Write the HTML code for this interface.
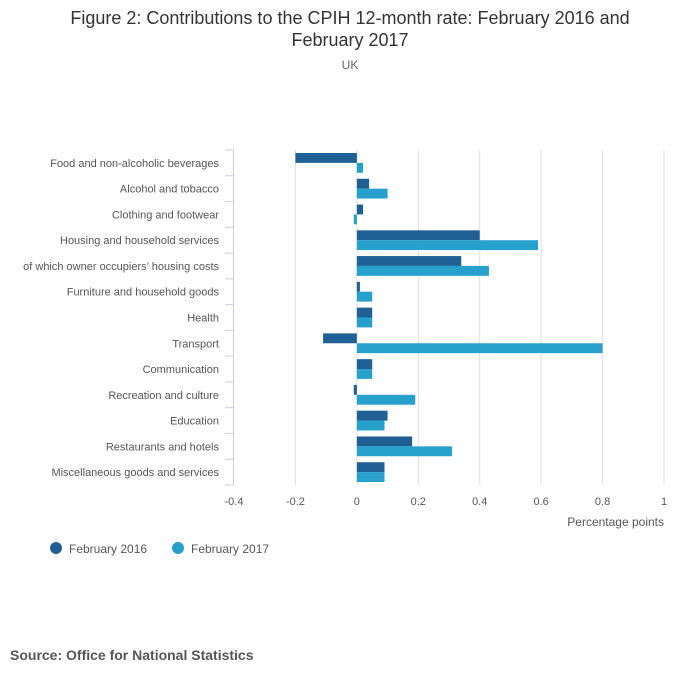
<!DOCTYPE html>
<html><head><meta charset="utf-8"><style>
body{margin:0;background:#fff;font-family:"Liberation Sans",sans-serif;}
</style></head><body>
<svg width="700" height="682" font-family="Liberation Sans, sans-serif">
<text x="350" y="24" text-anchor="middle" font-size="18" fill="#333">Figure 2: Contributions to the CPIH 12-month rate: February 2016 and</text>
<text x="350" y="46" text-anchor="middle" font-size="18" fill="#333">February 2017</text>
<text x="350" y="69" text-anchor="middle" font-size="12" fill="#666">UK</text>
<g id="plot"></g>
<text x="664" y="526" text-anchor="end" font-size="12" fill="#555">Percentage points</text>
<circle cx="56" cy="548" r="6" fill="#206095"/>
<text x="69" y="553" font-size="12" fill="#555">February 2016</text>
<circle cx="178" cy="548" r="6" fill="#27a0cc"/>
<text x="191" y="553" font-size="12" fill="#555">February 2017</text>
<text x="10" y="660" font-size="14" font-weight="bold" fill="#555">Source: Office for National Statistics</text>
</svg>
<script>
const categories=["Food and non-alcoholic beverages","Alcohol and tobacco","Clothing and footwear","Housing and household services","of which owner occupiers’ housing costs","Furniture and household goods","Health","Transport","Communication","Recreation and culture","Education","Restaurants and hotels","Miscellaneous goods and services"];
const feb2016=[-0.2,0.04,0.02,0.40,0.34,0.01,0.05,-0.11,0.05,-0.01,0.10,0.18,0.09];
const feb2017=[0.02,0.10,-0.01,0.59,0.43,0.05,0.05,0.80,0.05,0.19,0.09,0.31,0.09];
const xTicks=[-0.4,-0.2,0,0.2,0.4,0.6,0.8,1];
const xTickLabels=["-0.4","-0.2","0","0.2","0.4","0.6","0.8","1"];
const NS="http://www.w3.org/2000/svg";
const g=document.getElementById('plot');
const x0=234,x1=664,vmin=-0.4,vmax=1,plotTop=150,plotBottom=485;
const band=(plotBottom-plotTop)/categories.length;
const X=v=>x0+(v-vmin)/(vmax-vmin)*(x1-x0);
const Y=i=>plotTop+i*band;
function mk(t,a){const e=document.createElementNS(NS,t);for(const k in a)e.setAttribute(k,a[k]);g.appendChild(e);return e;}
xTicks.forEach((t,i)=>{
  if(i>0){const l=mk('line',{x1:X(t),x2:X(t),y1:plotTop,y2:plotBottom,stroke:'#e0e0e0'});
  
  }
  const tx=mk('text',{x:X(t),y:505,'text-anchor':'middle','font-size':11,fill:'#555'});
  tx.textContent=xTickLabels[i];
  
  
});
const ax=mk('line',{x1:233.5,x2:233.5,y1:plotTop,y2:plotBottom,stroke:'#ccd'});


for(let i=0;i<=categories.length;i++){
  const tk=mk('line',{x1:225,x2:234,y1:Y(i),y2:Y(i),stroke:'#ccd'});
  
  
}
categories.forEach((c,i)=>{
  const t=mk('text',{x:219,y:Y(i)+band/2+4,'text-anchor':'end','font-size':11,fill:'#555'});
  t.textContent=c;
  
  
  const bh=(band-6)/2, by=Y(i)+3;
  [[feb2016[i],'#206095',by,'bar-2016'],[feb2017[i],'#27a0cc',by+bh,'bar-2017']].forEach(([v,col,yy,nm])=>{
    const r=mk('rect',{x:Math.min(X(0),X(v)),y:yy,width:Math.max(Math.abs(X(v)-X(0)),1),height:bh,fill:col});
    
    
  });
});
</script>
</body></html>
